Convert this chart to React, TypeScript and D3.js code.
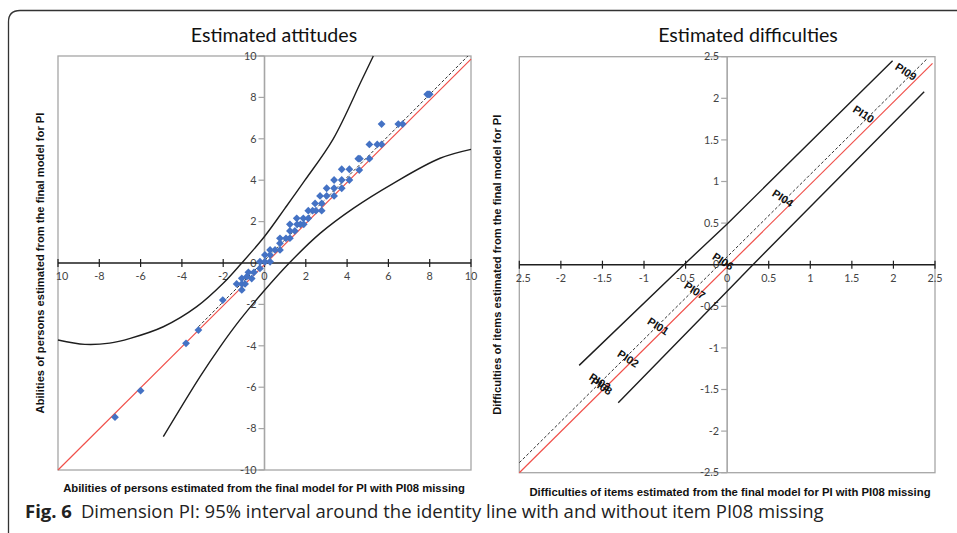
import React from "react";
import * as d3 from "d3";

// ---------- Left panel data ----------
const personX = [7.93, 8.0, 7.88, 5.67, 6.48, 6.69, 5.08, 5.46, 5.67, 4.54, 4.62, 5.08, 3.74, 4.11, 4.59, 3.37, 3.74, 4.11, 3.01, 3.37, 3.74, 2.69, 3.01, 3.37, 2.45, 2.77, 2.12, 2.33, 2.49, 2.77, 1.56, 1.88, 2.12, 1.23, 1.58, 1.74, 1.9, 1.23, 1.47, 1.23, 0.75, 1.04, 0.75, 0.75, 0.27, 0.51, 0.02, 0.27, -0.22, 0.02, 0.27, -0.22, -0.51, -0.78, -0.86, -0.62, -1.1, -1.35, -1.1, -0.94, -1.1, -2.02, -3.2, -3.8, -6.0, -7.24];
const personY = [8.15, 8.15, 8.15, 6.71, 6.71, 6.71, 5.73, 5.73, 5.73, 5.04, 5.04, 5.04, 4.53, 4.53, 4.49, 4.01, 4.01, 4.01, 3.61, 3.61, 3.61, 3.24, 3.24, 3.24, 2.88, 2.88, 2.53, 2.53, 2.53, 2.53, 2.16, 2.16, 2.16, 1.87, 1.87, 1.87, 1.87, 1.55, 1.55, 1.2, 1.19, 1.19, 0.95, 0.63, 0.63, 0.63, 0.39, 0.39, 0.06, 0.06, 0.06, -0.26, -0.45, -0.45, -0.66, -0.75, -0.74, -1.01, -1.01, -1.01, -1.3, -1.79, -3.24, -3.88, -6.17, -7.45];

const upperX = [-10, -8.7, -7.5, -6.5, -4.9, -3.28, -2.0, -1.1, 0, 0.99, 1.96, 3.33, 4.71, 5.27];
const upperY = [-3.72, -3.93, -3.87, -3.64, -3.08, -2.11, -0.98, 0, 1.28, 2.64, 4.0, 6.0, 8.84, 10];
const lowerX = [-4.9, -3.12, -2.15, -1.19, -0.06, 1.2, 2.69, 4.3, 6.24, 8.5, 10];
const lowerY = [-8.39, -5.49, -4.05, -2.75, -1.39, 0.0, 1.43, 2.64, 3.85, 5.06, 5.49];

const leftIdentityX = [-10, 10];
const leftIdentityY = [-10, 9.85];
const leftFitX = [-3.2, 9.85];
const leftFitY = [-3.08, 10];

const leftTicks = [-10, -8, -6, -4, -2, 0, 2, 4, 6, 8, 10];
const leftXTickLabels = ["10", "-8", "-6", "-4", "-2", "0", "2", "4", "6", "8", "10"];
const leftYTickLabels = ["-10", "-8", "-6", "-4", "-2", "0", "2", "4", "6", "8", "10"];

// ---------- Right panel data ----------
const itemLabels = ["PI09", "PI10", "PI04", "PI06", "PI07", "PI01", "PI02", "PI03", "PI08"];
const itemX = [2.15, 1.64, 0.67, -0.05, -0.39, -0.83, -1.19, -1.53, -1.51];
const itemY = [2.32, 1.81, 0.8, 0.04, -0.31, -0.74, -1.13, -1.41, -1.46];

const rightUpperX = [-1.78, -0.52, 0, 1.99];
const rightUpperY = [-1.21, 0, 0.49, 2.45];
const rightLowerX = [-1.31, 0, 0.31, 2.37];
const rightLowerY = [-1.66, -0.32, 0, 2.08];
const rightIdentityX = [-2.5, 2.47];
const rightIdentityY = [-2.5, 2.42];
const rightFitX = [-2.5, 2.41];
const rightFitY = [-2.38, 2.48];

const rightTicks = [-2.5, -2, -1.5, -1, -0.5, 0, 0.5, 1, 1.5, 2, 2.5];
const rightXTickLabels = ["2.5", "-2", "-1.5", "-1", "-0.5", "0", "0.5", "1", "1.5", "2", "2.5"];
const rightYTickLabels = ["-2.5", "-2", "-1.5", "-1", "-0.5", "0", "0.5", "1", "1.5", "2", "2.5"];

// ---------- styles ----------
const BLACK = "#1e1e1e";
const RED = "#f0504a";
const BLUE = "#4472c4";
const GREY = "#a6a6a6";
const TICKFONT = "Lato, 'Open Sans', sans-serif";
const BOLDFONT = "'Liberation Sans', Arial, sans-serif";

type PanelProps = {
  xs: d3.ScaleLinear<number, number>;
  ys: d3.ScaleLinear<number, number>;
  ticks: number[];
  xLabels: string[];
  yLabels: string[];
  title: string;
  titleX: number;
  xTitle: string;
  yTitle: string;
  yTitleX: number;
  xTitleY: number;
  xTitleX: number;
  firstLabelShift: number;
  children?: React.ReactNode;
};

function Panel(p: PanelProps) {
  const { xs, ys, ticks } = p;
  const [x0, x1] = xs.range();
  const [y1, y0] = ys.range();
  const ax = xs(0);
  const ay = ys(0);
  return (
    <g>
      <text x={p.titleX} y={42} textAnchor="middle" fontFamily={TICKFONT} fontSize={19.6} fill="#111">
        {p.title}
      </text>
      <rect x={x0} y={y0} width={x1 - x0} height={y1 - y0} fill="none" stroke={GREY} strokeWidth={1.3} />
      {/* vertical axis */}
      <line x1={ax} x2={ax} y1={y0} y2={y1} stroke={GREY} strokeWidth={1.6} />
      {ticks.map((t, i) => (
        <g key={"yt" + i}>
          <line x1={ax - 6} x2={ax} y1={ys(t)} y2={ys(t)} stroke={GREY} strokeWidth={1.2} />
          <text x={ax - 8} y={ys(t)} dy="0.35em" textAnchor="end" fontFamily={TICKFONT} fontSize={10.8} fill="#444">
            {p.yLabels[i]}
          </text>
        </g>
      ))}
      {/* horizontal axis */}
      <line x1={x0} x2={x1} y1={ay} y2={ay} stroke={BLACK} strokeWidth={1.5} />
      {ticks.map((t, i) => (
        <g key={"xt" + i}>
          <line x1={xs(t)} x2={xs(t)} y1={ay - 4} y2={ay + 4} stroke={BLACK} strokeWidth={1.2} />
          <text x={xs(t) + (i === 0 ? p.firstLabelShift : 0)} y={ay + 17} textAnchor="middle" fontFamily={TICKFONT} fontSize={10.8} fill="#444">
            {p.xLabels[i]}
          </text>
        </g>
      ))}
      {p.children}
      <text x={p.xTitleX} y={p.xTitleY} textAnchor="middle" fontFamily={BOLDFONT} fontWeight="bold" fontSize={11.3} fill="#111">
        {p.xTitle}
      </text>
      <text
        transform={`translate(${p.yTitleX},${(y0 + y1) / 2}) rotate(-90)`}
        textAnchor="middle"
        fontFamily={BOLDFONT}
        fontWeight="bold"
        fontSize={11.2}
        fill="#111"
      >
        {p.yTitle}
      </text>
    </g>
  );
}

export default function App() {
  const lx = d3.scaleLinear().domain([-10, 10]).range([58, 471]);
  const ly = d3.scaleLinear().domain([-10, 10]).range([470, 56]);
  const rx = d3.scaleLinear().domain([-2.5, 2.5]).range([519.3, 935]);
  const ry = d3.scaleLinear().domain([-2.5, 2.5]).range([472.7, 56.7]);

  const mk = (
    xs: d3.ScaleLinear<number, number>,
    ys: d3.ScaleLinear<number, number>,
    X: number[],
    Y: number[],
    curve: d3.CurveFactory = d3.curveLinear
  ) =>
    d3
      .line<number>()
      .x((d) => xs(d))
      .y((_, i) => ys(Y[i]))
      .curve(curve)(X) || "";

  const diamond = "M0,-3.9L3.9,0L0,3.9L-3.9,0Z";

  return (
    <svg width={957} height={533} style={{ position: "absolute", left: 0, top: 0, background: "#fff" }}>
      <rect x={0} y={0} width={957} height={533} fill="#fff" />
      <path d="M8.5,533 L8.5,22 Q8.5,10.5 20,10.5 L957,10.5" fill="none" stroke="#333" strokeWidth={1.3} />

      <Panel
        xs={lx}
        ys={ly}
        ticks={leftTicks}
        xLabels={leftXTickLabels}
        yLabels={leftYTickLabels}
        title="Estimated attitudes"
        titleX={274}
        xTitle="Abilities of persons estimated from the final model for PI with PI08 missing"
        xTitleX={264}
        yTitle="Abilities of persons estimated from the final model for PI"
        yTitleX={44}
        xTitleY={492}
        firstLabelShift={4}
      >
        <path d={mk(lx, ly, upperX, upperY, d3.curveCatmullRom)} fill="none" stroke={BLACK} strokeWidth={1.4} />
        <path d={mk(lx, ly, lowerX, lowerY, d3.curveCatmullRom)} fill="none" stroke={BLACK} strokeWidth={1.4} />
        <path d={mk(lx, ly, leftIdentityX, leftIdentityY)} fill="none" stroke={RED} strokeWidth={1.2} />
        <path d={mk(lx, ly, leftFitX, leftFitY)} fill="none" stroke="#333" strokeWidth={1} strokeDasharray="3,2" />
        {personX.map((x, i) => (
          <path key={i} d={diamond} transform={`translate(${lx(x)},${ly(personY[i])})`} fill={BLUE} />
        ))}
      </Panel>

      <Panel
        xs={rx}
        ys={ry}
        ticks={rightTicks}
        xLabels={rightXTickLabels}
        yLabels={rightYTickLabels}
        title="Estimated difficulties"
        titleX={748}
        xTitle="Difficulties of items estimated from the final model for PI with PI08 missing"
        xTitleX={730}
        yTitle="Difficulties of items estimated from the final model for PI"
        yTitleX={501}
        xTitleY={496}
        firstLabelShift={4}
      >
        <path d={mk(rx, ry, rightUpperX, rightUpperY)} fill="none" stroke={BLACK} strokeWidth={1.4} />
        <path d={mk(rx, ry, rightLowerX, rightLowerY)} fill="none" stroke={BLACK} strokeWidth={1.4} />
        <path d={mk(rx, ry, rightIdentityX, rightIdentityY)} fill="none" stroke={RED} strokeWidth={1.2} />
        <path d={mk(rx, ry, rightFitX, rightFitY)} fill="none" stroke="#333" strokeWidth={1} strokeDasharray="3,2" />
        {itemLabels.map((lab, i) => (
          <text
            key={lab}
            transform={`translate(${rx(itemX[i])},${ry(itemY[i])}) rotate(33)`}
            textAnchor="middle"
            dy="0.35em"
            fontFamily={BOLDFONT}
            fontWeight="bold"
            fontSize={11}
            fill="#111"
          >
            {lab}
          </text>
        ))}
      </Panel>

      <text x={25} y={518} fontFamily="'Open Sans', sans-serif" fontSize={18.5} fill="#222">
        <tspan fontWeight="bold">Fig. 6</tspan>
        <tspan dx={9}>Dimension PI: 95% interval around the identity line with and without item PI08 missing</tspan>
      </text>
    </svg>
  );
}
